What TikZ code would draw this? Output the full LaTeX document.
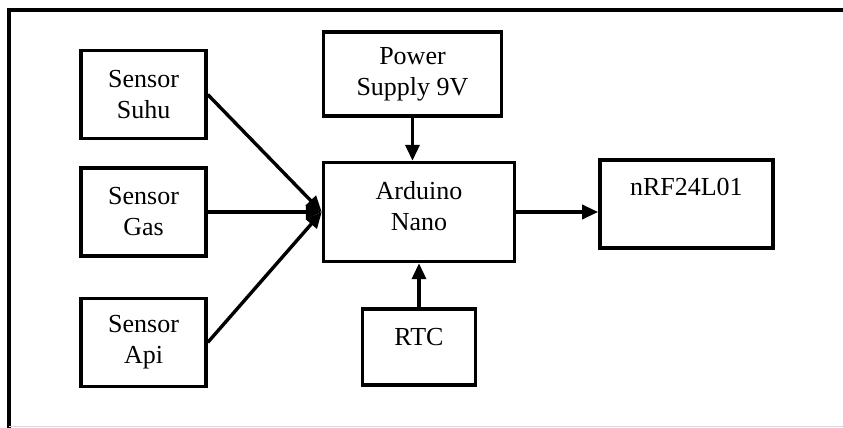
\documentclass[tikz,border=0pt]{standalone}
\usepackage{fontspec}
\setmainfont{Liberation Serif}
\usetikzlibrary{positioning,arrows.meta}

\begin{document}
\begin{tikzpicture}[
  blok/.style={draw,line width=1.7pt,align=center,font=\fontsize{13}{15.5}\selectfont},
  sens/.style={blok,minimum width=62.5pt,minimum height=44pt},
  ar/.style={-{Triangle[length=8pt,width=7pt]},line width=1.7pt}]
\useasboundingbox (-209.5pt,-108pt) rectangle (212pt,106pt);
% frame
\coordinate (fbl) at (-204.75pt,-108pt);
\coordinate (ftl) at (-204.75pt,101pt);
\coordinate (ftr) at (212pt,101pt);
\draw[line width=2pt] (fbl) -- (ftl) -- (ftr);
\draw[black!15,line width=0.6pt] (-204.75pt,-107.2pt) -- (212pt,-107.2pt);
% blocks
\node[blok,minimum width=95.5pt,minimum height=49.5pt,text depth=6.5pt] (ard) at (0,0) {Arduino\\Nano};
\node[blok,minimum width=89pt,minimum height=42pt,above=21.5pt of ard.north west,anchor=south west] (pwr) {Power\\Supply 9V};
\node[blok,minimum width=56.5pt,minimum height=38pt,text height=9pt,text depth=10.5pt,below=22pt of ard] (rtc) {RTC};
\node[blok,minimum width=86.5pt,minimum height=44pt,text height=9pt,text depth=17.5pt,right=41pt of ard.north east,anchor=north west,yshift=1.25pt] (nrf) {nRF24L01};
\node[sens,left=57pt of ard] (gas) {Sensor\\Gas};
\node[sens,above=13pt of gas] (suhu) {Sensor\\Suhu};
\node[sens,below=19.5pt of gas] (api) {Sensor\\Api};
% links
\foreach \n in {suhu,gas,api} \draw[ar] (\n.east) -- (ard.west);
\draw[ar] (pwr.south) -- (pwr.south |- ard.north);
\draw[ar] (rtc) -- (ard);
\draw[ar] (ard.east) -- (ard.east -| nrf.west);
\end{tikzpicture}
\end{document}
